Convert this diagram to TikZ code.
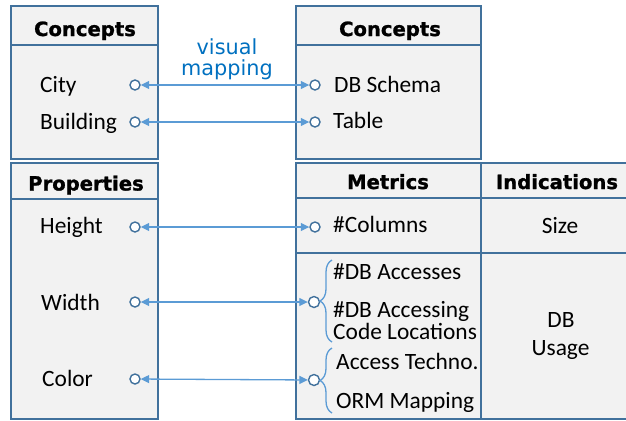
\documentclass[tikz,border=0pt]{standalone}
\usepackage{fontspec}
\setmainfont{Carlito}
\newfontfamily\headfont{DejaVu Sans}
\newfontfamily\headbold{DejaVu Sans Bold}[FakeBold=1.2]
\usetikzlibrary{arrows.meta,decorations.pathreplacing}
\definecolor{tblline}{RGB}{65,113,156}
\definecolor{tblfill}{RGB}{242,242,242}
\definecolor{maparrow}{RGB}{91,155,213}
\definecolor{mapblue}{RGB}{0,112,192}

\begin{document}
\begin{tikzpicture}[x=1bp,y=-1bp,>={Triangle[length=8.5bp,width=8bp]}]
\tikzstyle{tbl}=[draw=tblline,fill=tblfill,line width=1.5bp]
\tikzstyle{hd}=[anchor=base,inner sep=0pt,font=\headbold\fontsize{19.6bp}{24bp}\selectfont]
\tikzstyle{it}=[anchor=base west,inner sep=0pt,font=\fontsize{23.4bp}{26bp}\selectfont]
\tikzstyle{ind}=[anchor=base,inner sep=0pt,font=\fontsize{23.4bp}{26bp}\selectfont]
\tikzstyle{port}=[draw=tblline,fill=white,circle,inner sep=0pt,minimum size=10bp,line width=1.4bp]
\tikzstyle{map}=[<->,draw=maparrow,line width=1.3bp]
\tikzstyle{grp}=[draw=maparrow,line width=1.3bp,decorate,decoration={brace,amplitude=12bp}]
\useasboundingbox (0,0) rectangle (626,420);
\clip (0,0) rectangle (626,420);
% tables
\draw[tbl] (11,6) rectangle (158,159); \draw[tbl] (11,45) -- (158,45);
\draw[tbl] (11,163) rectangle (158,419); \draw[tbl] (11,199) -- (158,199);
\draw[tbl] (296,6) rectangle (481,159); \draw[tbl] (296,45) -- (481,45);
\draw[tbl] (296,163) rectangle (634,419); \draw[tbl] (296,198) -- (634,198);
\draw[tbl] (296,253) -- (634,253); \draw[tbl] (481,163) -- (481,419);
% headers
\node[hd] (lconc) at (85,36) {Concepts};
\node[hd] (rconc) at (390,36) {Concepts};
\node[hd] (prop) at (86,190.5) {Properties};
\node[hd] (metr) at (388,189) {Metrics};
\node[hd] (indi) at (557,189) {Indications};
% city side
\node[it] (city) at (40,92) {City}; \node[it] (bldg) at (40,129) {Building};
\node[it] (height) at (40,233) {Height}; \node[it] (width) at (41,310.5) {Width};
\node[it] (color) at (42,386) {Color};
\node[port] (cityport) at (135,85) {}; \node[port] (bldgport) at (135,122) {};
\node[port] (heightport) at (135,227) {}; \node[port] (widthport) at (135,302) {};
\node[port] (colorport) at (135,379) {};
% db side
\node[it] (schema) at (334,92.5) {DB Schema}; \node[it] (table) at (333,128.5) {Table};
\node[it] (cols) at (333,232.5) {\#Columns};
\node[it] (acc) at (333,279) {\#DB Accesses};
\node[it] (accloc) at (333,317) {\#DB Accessing};
\node[it] (codeloc) at (333,339) {Code Locations};
\node[it] (techno) at (336,369) {Access Techno.};
\node[it] (orm) at (336,408) {ORM Mapping};
\node[ind] (size) at (560,233) {Size};
\node[ind] (usedb) at (561,327) {DB}; \node[ind] (usage) at (560.5,355) {Usage};
\node[port] (schemaport) at (315,85) {}; \node[port] (tableport) at (315,122) {};
\node[port] (colport) at (315,227) {};
\node[port,minimum size=11bp] (accport) at (314,302) {};
\node[port,minimum size=11bp] (techport) at (314,380) {};
\draw[grp] (332,342) -- (332,260); \draw[grp] (332,413) -- (332,348);
% mappings
\node[font=\headfont\fontsize{20.8bp}{21.5bp}\selectfont,text=mapblue,align=center,anchor=base,inner sep=0pt] (vm) at (227,75.5) {visual\\mapping};
\draw[map] (cityport) -- (schemaport); \draw[map] (bldgport) -- (tableport);
\draw[map] (heightport) -- (colport); \draw[map] (widthport) -- (accport);
\draw[map] (colorport) -- (techport);
\end{tikzpicture}
\end{document}
